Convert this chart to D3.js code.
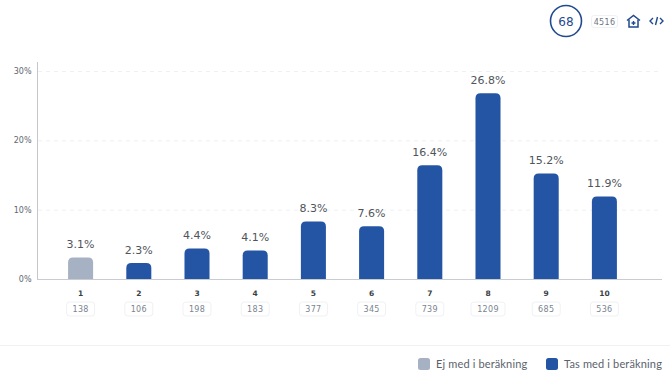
<!DOCTYPE html>
<html>
<head>
<meta charset="utf-8">
<script src="https://cdn.jsdelivr.net/npm/d3@7"></script>
<style>
  html, body { margin: 0; padding: 0; background: #fff; }
  svg { display: block; }
  text { font-family: "DejaVu Sans", sans-serif; }
</style>
</head>
<body>
<div id="chart"></div>
<script>
const categories = ["1", "2", "3", "4", "5", "6", "7", "8", "9", "10"];
const percents = [3.1, 2.3, 4.4, 4.1, 8.3, 7.6, 16.4, 26.8, 15.2, 11.9];
const counts = [138, 106, 198, 183, 377, 345, 739, 1209, 685, 536];
const excluded = ["1"];
const yTicks = [0, 10, 20, 30];
const legendLabels = ["Ej med i beräkning", "Tas med i beräkning"];
const totalScore = "68";
const totalCount = "4516";

const blue = "#2455a4", grey = "#a6b1c3", navy = "#1f4a8f";
const width = 670, height = 375;

const svg = d3.select("#chart").append("svg")
    .attr("width", width)
    .attr("height", height);

const x = d3.scaleBand()
    .domain(categories)
    .range([51.5, 633.5])
    .paddingInner(0.57)
    .paddingOuter(0.285);

const y = d3.scaleLinear()
    .domain([0, 30])
    .range([279, 71]);

// grid lines
svg.append("g").selectAll("line").data(yTicks.slice(1))
    .enter().append("line")
    .attr("x1", 38).attr("x2", 662)
    .attr("y1", d => y(d) + .5).attr("y2", d => y(d) + .5)
    .attr("stroke", "#eef0f2")
    .attr("stroke-dasharray", "4 4");

// y axis
const yAxis = svg.append("g")
    .attr("transform", "translate(37.5,0)")
    .call(d3.axisLeft(y).tickValues(yTicks).tickFormat(d => d + "%").tickSize(0).tickPadding(6));
yAxis.select(".domain").remove();
yAxis.selectAll("text").style("font-size", "8px").style("fill", "#62676f").attr("font-family", null);

svg.append("line")
    .attr("x1", 37.5).attr("x2", 37.5)
    .attr("y1", 62).attr("y2", 279)
    .attr("stroke", "#c3c7cd");
svg.append("line")
    .attr("x1", 37).attr("x2", 662)
    .attr("y1", 279.5).attr("y2", 279.5)
    .attr("stroke", "#c8ccd2");

// bars, only the top corners are rounded
const barPath = (d, i) => {
    const x0 = x(categories[i]), w = x.bandwidth(), top = y(d), r = 5;
    return `M${x0},${y(0)}V${top + r}Q${x0},${top} ${x0 + r},${top}H${x0 + w - r}Q${x0 + w},${top} ${x0 + w},${top + r}V${y(0)}Z`;
};
svg.append("g").selectAll("path").data(percents)
    .enter().append("path")
    .attr("d", barPath)
    .attr("fill", (d, i) => excluded.includes(categories[i]) ? grey : blue);

// value labels
svg.append("g").selectAll("text").data(percents)
    .enter().append("text")
    .attr("x", (d, i) => x(categories[i]) + x.bandwidth() / 2)
    .attr("y", d => y(d) - 9.5)
    .attr("text-anchor", "middle")
    .style("font-size", "11px")
    .style("fill", "#50555c")
    .text(d => d.toFixed(1) + "%");

// category labels
svg.append("g").selectAll("text").data(categories)
    .enter().append("text")
    .attr("x", d => x(d) + x.bandwidth() / 2)
    .attr("y", 296)
    .attr("text-anchor", "middle")
    .style("font-size", "7.5px")
    .style("font-weight", "bold")
    .style("fill", "#3a3f47")
    .text(d => d);

// count badges
const badge = svg.append("g").selectAll("g").data(counts)
    .enter().append("g")
    .attr("transform", (d, i) => `translate(${x(categories[i]) + x.bandwidth() / 2},309)`);
badge.append("rect")
    .attr("x", d => -(String(d).length * 3 + 5))
    .attr("y", -7)
    .attr("width", d => String(d).length * 6 + 10)
    .attr("height", 14)
    .attr("rx", 3)
    .attr("fill", "#fff")
    .attr("stroke", "#f0f1f4");
badge.append("text")
    .attr("y", 3)
    .attr("text-anchor", "middle")
    .style("font-size", "8px")
    .style("letter-spacing", "0.3px")
    .style("fill", "#7b8490")
    .text(d => d);

// footer + legend
svg.append("line")
    .attr("x1", 0).attr("x2", width)
    .attr("y1", 345.5).attr("y2", 345.5)
    .attr("stroke", "#f0f1f3");

const legendX = [418, 546];
const legend = svg.append("g").selectAll("g").data(legendLabels)
    .enter().append("g")
    .attr("transform", (d, i) => `translate(${legendX[i]},358)`);
legend.append("rect")
    .attr("y", 0).attr("width", 12).attr("height", 12)
    .attr("rx", 2.5)
    .attr("fill", (d, i) => i === 0 ? grey : blue);
legend.append("text")
    .attr("x", 18).attr("y", 10)
    .style("font-family", "Lato, sans-serif")
    .style("font-size", "11px")
    .style("letter-spacing", "0.15px")
    .style("fill", "#5b626c")
    .text(d => d);

// top right header
svg.append("circle")
    .attr("cx", 566).attr("cy", 21).attr("r", 15.5)
    .attr("fill", "#fff").attr("stroke", navy).attr("stroke-width", 1.6);
svg.append("text")
    .attr("x", 566).attr("y", 25.5)
    .attr("text-anchor", "middle")
    .style("font-size", "12px")
    .style("fill", navy)
    .text(totalScore);

svg.append("rect")
    .attr("x", 591.5).attr("y", 15.5).attr("width", 26).attr("height", 12)
    .attr("rx", 2.5).attr("fill", "#fff").attr("stroke", "#f0f1f4");
svg.append("text")
    .attr("x", 604.5).attr("y", 24.5)
    .attr("text-anchor", "middle")
    .style("font-size", "8px")
    .style("letter-spacing", "0.3px")
    .style("fill", "#6d7682")
    .text(totalCount);

// house icon
const icon = svg.append("g").attr("transform", "translate(633.5,21.5)")
    .attr("fill", "none").attr("stroke", navy).attr("stroke-width", 1.5);
icon.append("path").attr("d", "M-6.5,-1L0,-6L6.5,-1");
icon.append("path").attr("d", "M-4.5,-2V5.5H4.5V-2");
icon.append("path").attr("d", "M-2,1.5H2M0,-.5V3.5").attr("stroke-width", 1.4);

// code icon
const code = svg.append("g").attr("transform", "translate(656.5,21)")
    .attr("fill", "none").attr("stroke", navy).attr("stroke-width", 1.4);
code.append("path").attr("d", "M-3.5,-3L-6.5,0L-3.5,3");
code.append("path").attr("d", "M3.5,-3L6.5,0L3.5,3");
code.append("path").attr("d", "M1,-4L-1,4");
</script>
</body>
</html>
